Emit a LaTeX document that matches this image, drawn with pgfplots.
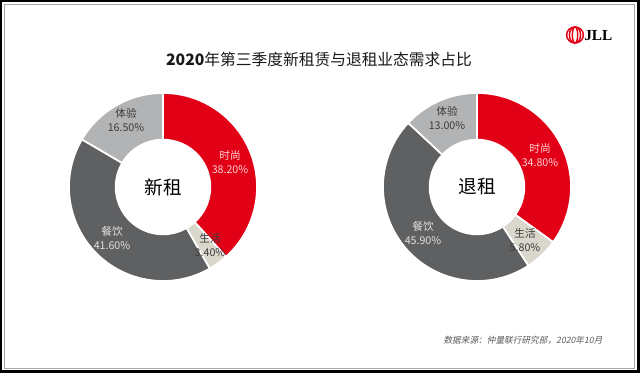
\documentclass[border=0pt]{standalone}
\usepackage{pgfplots}
\pgfplotsset{compat=1.18}
\usepackage{fontspec}
\setmainfont{Noto Sans CJK SC}
\newfontfamily\jllfont{Liberation Serif}
\newfontfamily\srcfont{Noto Sans CJK SC}[FakeSlant=0.2]
\definecolor{jllred}{RGB}{226,0,22}
\definecolor{jlldark}{RGB}{95,96,98}
\definecolor{jlllight}{RGB}{178,179,181}
\definecolor{jllbeige}{RGB}{218,215,204}
\definecolor{pinklab}{RGB}{250,212,212}
\definecolor{darklab}{RGB}{226,226,226}
\definecolor{greytxt}{RGB}{60,60,60}
\def\Ro{70.5pt}
\def\Ri{35.5pt}
% #1 cx, #2 cy (axis units), #3 list value/colour, clockwise from 12 o'clock
\newcommand\donut[3]{%
  \gdef\tot{0}%
  \foreach \v/\c in {#3}{\pgfmathparse{\tot+\v}\xdef\tot{\pgfmathresult}}%
  \gdef\ang{90}%
  \foreach \v/\c in {#3}{%
    \pgfmathparse{\ang-(\v/\tot)*360}\let\e\pgfmathresult
    \edef\temp{\noexpand\filldraw[fill=\c,draw=white,line width=1.3pt,line join=miter]
      (axis cs:#1,#2) ++(\ang:\Ro) arc[start angle=\ang,end angle=\e,radius=\Ro]
      -- ++(\e+180:35pt) arc[start angle=\e,end angle=\ang,radius=\Ri] -- cycle;}%
    \temp
    \xdef\ang{\e}%
  }%
}
\begin{document}
\begin{tikzpicture}
\begin{axis}[
  at={(0,0)}, anchor=south west,
  x=0.75pt, y=0.75pt,
  xmin=0, xmax=640, ymin=0, ymax=373,
  hide axis, clip=false,
]
% background and frame
\fill[white] (axis cs:0,0) rectangle (axis cs:640,373);
\draw[black, line width=1.5pt] (axis cs:1,1) rectangle (axis cs:639,372);
\fill[black] (axis cs:636.5,0) rectangle (axis cs:640,373);
\fill[black] (axis cs:0,0) rectangle (axis cs:640,3);
\draw[black!35, line width=0.4pt] (axis cs:4.5,5) rectangle (axis cs:634.5,368.5);

% donuts: 时尚, 生活, 餐饮, 体验
\donut{163}{186}{38.2/jllred, 3.4/jllbeige, 41.6/jlldark, 16.5/jlllight}
\donut{477}{186}{34.8/jllred, 5.8/jllbeige, 45.9/jlldark, 13.0/jlllight}

% title
\node[font=\fontsize{11.8}{14}\selectfont, text=black!90] at (axis cs:319,313)
  {\textbf{2020}年第三季度新租赁与退租业态需求占比};

% centre labels
\node[font=\fontsize{14}{16}\selectfont] at (axis cs:163,186) {新租};
\node[font=\fontsize{14}{16}\selectfont] at (axis cs:477,186) {退租};

% left labels
\begin{scope}[every node/.style={font=\fontsize{8}{9.5}\selectfont, align=center, inner sep=0pt}]
\node[text=pinklab] at (axis cs:230,211) {时尚\\[1pt]38.20\%};
\node[text=greytxt] at (axis cs:126,253) {体验\\[1pt]16.50\%};
\node[text=darklab] at (axis cs:112,135) {餐饮\\[1pt]41.60\%};
\node[text=greytxt] at (axis cs:210,128) {生活\\[1pt]3.40\%};
% right labels
\node[text=pinklab] at (axis cs:540,218) {时尚\\[1pt]34.80\%};
\node[text=greytxt] at (axis cs:447,255) {体验\\[1pt]13.00\%};
\node[text=darklab] at (axis cs:423,140) {餐饮\\[1pt]45.90\%};
\node[text=greytxt] at (axis cs:525,133) {生活\\[1pt]5.80\%};
\end{scope}

% source
\node[font=\srcfont\fontsize{6.5}{8}\selectfont, text=black!65] at (axis cs:523,33)
  {数据来源：仲量联行研究部，2020年10月};

% JLL logo
\begin{scope}[jllred, line width=1.1pt]
\draw (axis cs:575,338) ellipse[x radius=6.3pt, y radius=6.0pt];
\draw (axis cs:575,338) ellipse[x radius=4.2pt, y radius=6.0pt];
\draw (axis cs:575,338) ellipse[x radius=2.0pt, y radius=6.0pt];
\end{scope}
\node[font=\jllfont\bfseries\fontsize{11.5}{13}\selectfont, anchor=west, inner sep=0pt] at (axis cs:584,337) {JLL};
\end{axis}
\end{tikzpicture}
\end{document}
